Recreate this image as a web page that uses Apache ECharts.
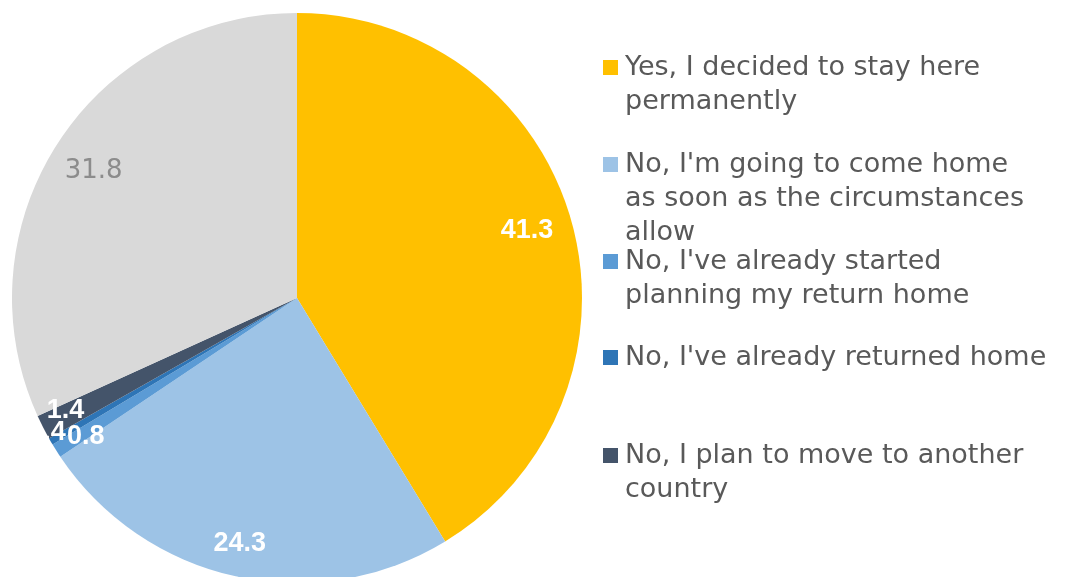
<!DOCTYPE html>
<html>
<head>
<meta charset="utf-8">
<script src="https://cdn.jsdelivr.net/npm/echarts@6/dist/echarts.min.js"></script>
<style>
  html, body { margin: 0; padding: 0; background: #ffffff; }
  #chart { width: 1076px; height: 577px; }
</style>
</head>
<body>
<div id="chart"></div>
<script>
// Survey answers, in clockwise order from twelve o'clock
const categories = [
  "Yes, I decided to stay here\npermanently",
  "No, I'm going to come home\nas soon as the circumstances\nallow",
  "No, I've already started\nplanning my return home",
  "No, I've already returned home",
  "No, I plan to move to another\ncountry",
  "Other"
];
const shares = [41.3, 24.3, 0.8, 0.4, 1.4, 31.8];
const sliceColors = ["#FFC000", "#9DC3E6", "#5B9BD5", "#2E75B6", "#44546A", "#D9D9D9"];
const labelColors = ["#ffffff", "#ffffff", "#ffffff", "#ffffff", "#ffffff", "#8c8c8c"];
const legendCount = 5;

// small nudges so the thin slices' labels don't sit on top of each other
const labelNudge = [[-4, -2], [-5, 8], [-6, 8], [-40, 12], [-15, 2], [1, 5]];

const chart = echarts.init(document.getElementById('chart'), null, { renderer: 'canvas' });

const center = [297, 298];
const R = 285;

const pieData = shares.map((v, i) => ({
  name: categories[i],
  value: v,
  itemStyle: { color: sliceColors[i] }
}));

const labelData = shares.map((v, i) => ({
  name: categories[i],
  value: v,
  label: {
    color: labelColors[i],
    fontWeight: i === 5 ? 'normal' : 'bold',
    fontFamily: i === 5 ? '"DejaVu Sans", sans-serif' : '"Liberation Sans", Arial, sans-serif',
    fontSize: i === 5 ? 26 : 27
  }
}));

// legend drawn as swatch + text blocks
const legendTops = [68, 165, 262, 358, 456];
const legendGraphics = [];
for (let i = 0; i < legendCount; i++) {
  legendGraphics.push({
    type: 'rect',
    left: 603,
    top: legendTops[i] - 8,
    shape: { width: 15, height: 15 },
    style: { fill: sliceColors[i] },
    silent: true
  });
  legendGraphics.push({
    type: 'text',
    left: 625,
    top: legendTops[i] - 17,
    style: {
      text: categories[i],
      fill: '#595959',
      font: '27px "DejaVu Sans", sans-serif',
      lineHeight: 34
    },
    silent: true
  });
}

chart.setOption({
  animation: false,
  backgroundColor: '#ffffff',
  graphic: legendGraphics,
  series: [
    {
      type: 'pie',
      center: center,
      radius: [0, R],
      startAngle: 90,
      clockwise: true,
      avoidLabelOverlap: false,
      label: { show: false },
      labelLine: { show: false },
      silent: true,
      data: pieData
    },
    {
      // transparent ring that carries the value labels at ~84% of the radius
      type: 'pie',
      center: center,
      radius: [195, R],
      startAngle: 90,
      clockwise: true,
      avoidLabelOverlap: false,
      silent: true,
      itemStyle: { color: 'rgba(0,0,0,0)' },
      label: {
        show: true,
        position: 'inside',
        overflow: 'none',
        formatter: p => p.value.toFixed(1)
      },
      labelLine: { show: false },
      labelLayout: function (params) {
        const n = labelNudge[params.dataIndex];
        return { dx: n[0], dy: n[1] };
      },
      data: labelData
    }
  ]
});
</script>
</body>
</html>
